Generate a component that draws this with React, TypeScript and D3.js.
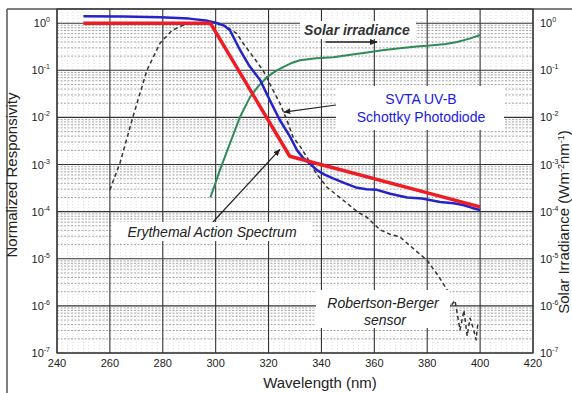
import React from 'react';
import * as d3 from 'd3';

// wavelength (nm) / normalized value pairs
const erythemal: [number, number][] = [[250, 1], [298, 1], [328, 0.0015], [400, 0.000126]];

const photodiode: [number, number][] = [
  [250, 1.41], [265, 1.38], [279, 1.34], [290, 1.25], [297, 1.12], [300, 1.02], [303, 0.9],
  [305.4, 0.71], [309.2, 0.27], [312.5, 0.13], [316.8, 0.062], [320.5, 0.023], [324.3, 0.0087],
  [328, 0.004], [330.8, 0.002], [333, 0.0014], [336, 0.001], [338.3, 0.00076], [341, 0.00062],
  [344.4, 0.00051], [349, 0.0004], [353.5, 0.00032], [357, 0.0003], [361, 0.00029], [366, 0.00024],
  [372.4, 0.0002], [378, 0.00019], [384.9, 0.00016], [390, 0.00015], [393.6, 0.000138],
  [397, 0.00012], [400, 0.000108],
];

const solar: [number, number][] = [
  [298, 0.0002], [301.6, 0.00076], [305.4, 0.0028], [309.2, 0.0102], [313, 0.027], [316, 0.045],
  [319.4, 0.071], [322.5, 0.095], [325.5, 0.117], [329, 0.145], [331.9, 0.164], [338, 0.18],
  [344.4, 0.19], [351, 0.215], [357.2, 0.24], [363, 0.265], [369.7, 0.295], [376, 0.32],
  [382.2, 0.34], [387, 0.36], [391.3, 0.4], [396, 0.47], [400, 0.56],
];

const robertsonBerger: [number, number][] = [
  [260, 0.00029], [263.8, 0.00107], [268.7, 0.0102], [274, 0.1], [279, 0.38], [283.5, 0.7],
  [287.7, 0.91], [292, 1.02], [297, 1.04], [301, 0.98], [304, 0.85], [308, 0.6], [310.3, 0.38],
  [314, 0.2], [317.9, 0.1], [321, 0.045], [324.3, 0.02], [327, 0.0085], [329.3, 0.0038],
  [332, 0.0024], [334.6, 0.0014], [338, 0.00065], [342.1, 0.00033], [346, 0.00022],
  [349.7, 0.00015], [353.5, 0.0001], [357.2, 0.000076], [362.2, 0.000041], [366, 0.000033],
  [369.7, 0.000029], [375, 0.000016], [379.9, 0.0000093], [384, 0.0000045], [387.5, 0.0000022],
  [388.6, 0.00000095], [390.5, 0.0000013], [392.4, 0.00000031], [393.9, 0.00000081],
  [395.1, 0.00000023], [396.2, 0.00000055], [397.3, 0.00000035], [398.5, 0.00000019],
  [399.2, 0.00000046],
];

const xTicks = [240, 260, 280, 300, 320, 340, 360, 380, 400, 420];
const exponents = [0, -1, -2, -3, -4, -5, -6, -7];

const W = 572;
const H = 393;
const left = 57, right = 533, top = 9, bottom = 353;

const font = '"Liberation Sans", Arial, Helvetica, sans-serif';

export default function App() {
  const x = d3.scaleLinear().domain([240, 420]).range([left, right]);
  const y = d3.scaleLog().domain([1e-7, 2]).range([bottom, top]);

  const line = d3.line<[number, number]>()
    .x(d => x(d[0]))
    .y(d => y(d[1]));

  // minor gridlines: 2..9 in every decade
  const minor: number[] = [];
  exponents.forEach(e => {
    if (e === 0) return;
    for (let k = 2; k <= 9; k++) minor.push(k * Math.pow(10, e));
  });

  const minorX = d3.range(242, 420, 2).filter(v => v % 20 !== 0);

  const sup = (e: number) => (e === 0 ? '0' : '-' + Math.abs(e));

  return (
    <svg width={W} height={H} style={{ position: 'absolute', left: 0, top: 0, background: '#fff' }}
      fontFamily={font}>
      <defs>
        <marker id="arr" viewBox="0 0 10 10" refX="9" refY="5" markerWidth="6" markerHeight="6" orient="auto-start-reverse">
          <path d="M0,1 L10,5 L0,9 z" fill="#222" />
        </marker>
        <clipPath id="plot">
          <rect x={left} y={top} width={right - left} height={bottom - top} />
        </clipPath>
      </defs>

      {/* outer figure frame */}
      <line x1={7} x2={W} y1={top} y2={top} stroke="#555" strokeWidth={1.5} />
      <line x1={7} x2={7} y1={top} y2={H} stroke="#555" strokeWidth={1.5} />

      {/* grid */}
      <g>
        {minorX.map(v => (
          <line key={'vx' + v} x1={x(v)} x2={x(v)} y1={top} y2={bottom} stroke="#c8c8c8" strokeWidth={0.6} strokeDasharray="1,2" />
        ))}
        {minor.map(v => (
          <line key={'hm' + v} x1={left} x2={right} y1={y(v)} y2={y(v)} stroke="#8a8a8a" strokeWidth={0.75} strokeDasharray="2,1.5" />
        ))}
        {exponents.map(e => (
          <line key={'hM' + e} x1={left} x2={right} y1={y(Math.pow(10, e))} y2={y(Math.pow(10, e))} stroke="#333" strokeWidth={1.1} />
        ))}
        {xTicks.map(v => (
          <line key={'vM' + v} x1={x(v)} x2={x(v)} y1={top} y2={bottom} stroke="#333" strokeWidth={1.1} />
        ))}
        <rect x={left} y={top} width={right - left} height={bottom - top} fill="none" stroke="#333" strokeWidth={1.2} />
      </g>

      {/* curves */}
      <g clipPath="url(#plot)" fill="none" strokeLinejoin="round">
        <path d={line(robertsonBerger) || ''} stroke="#333" strokeWidth={1.5} strokeDasharray="4,3" />
        <path d={line(solar) || ''} stroke="#2e8b57" strokeWidth={2} />
        <path d={line(photodiode) || ''} stroke="#2424c8" strokeWidth={2.5} />
        <path d={line(erythemal) || ''} stroke="#ee1c24" strokeWidth={3.5} />
      </g>

      {/* annotations */}
      <g>
        <rect x={300} y={21} width={116} height={18} fill="#fff" />
        <text x={357} y={35} textAnchor="middle" fontSize={14} fontStyle="italic" fontWeight="bold" fill="#333">Solar irradiance</text>
        <line x1={x(341.5)} y1={42} x2={x(361)} y2={42} stroke="#222" strokeWidth={1.3} markerEnd="url(#arr)" />

        <line x1={336} y1={105} x2={x(325.8)} y2={y(0.013)} stroke="#222" strokeWidth={1.2} markerEnd="url(#arr)" />
        <rect x={336} y={86} width={168} height={44} fill="#fff" />
        <text x={421} y={104} textAnchor="middle" fontSize={14} fill="#1a1ae6">SVTA UV-B</text>
        <text x={421} y={122} textAnchor="middle" fontSize={14} fill="#1a1ae6">Schottky Photodiode</text>

        <line x1={213} y1={222} x2={x(324.3)} y2={y(0.0021)} stroke="#222" strokeWidth={1.2} markerEnd="url(#arr)" />
        <rect x={112} y={222} width={200} height={19} fill="#fff" />
        <text x={212} y={237} textAnchor="middle" fontSize={14} fontStyle="italic" fill="#222">Erythemal Action Spectrum</text>

        <rect x={316} y={290} width={134} height={38} fill="#fff" />
        <text x={383} y={308} textAnchor="middle" fontSize={14} fontStyle="italic" fill="#222">Robertson-Berger</text>
        <text x={385} y={325} textAnchor="middle" fontSize={14} fontStyle="italic" fill="#222">sensor</text>
      </g>

      {/* axes labels */}
      <g fill="#222" fontSize={11}>
        {xTicks.map(v => (
          <text key={'xt' + v} x={x(v)} y={367} textAnchor="middle">{v}</text>
        ))}
        {exponents.map(e => (
          <text key={'yl' + e} x={left - 7} y={y(Math.pow(10, e)) + 4} textAnchor="end">
            10<tspan dy={-5} fontSize={7}>{sup(e)}</tspan>
          </text>
        ))}
        {exponents.map(e => (
          <text key={'yr' + e} x={right + 7} y={y(Math.pow(10, e)) + 4}>
            10<tspan dy={-5} fontSize={7}>{sup(e)}</tspan>
          </text>
        ))}
      </g>
      <text x={320} y={388} textAnchor="middle" fontSize={15} fill="#222">Wavelength (nm)</text>
      <text transform={`translate(17,175) rotate(-90)`} textAnchor="middle" fontSize={15} fill="#222">Normalized Responsivity</text>
      <text transform={`translate(569,222) rotate(-90)`} textAnchor="middle" fontSize={15} fill="#222">
        Solar Irradiance (Wm<tspan dy={-5} fontSize={9}>-2</tspan><tspan dy={5}>nm</tspan><tspan dy={-5} fontSize={9}>-1</tspan><tspan dy={5}>)</tspan>
      </text>
    </svg>
  );
}
